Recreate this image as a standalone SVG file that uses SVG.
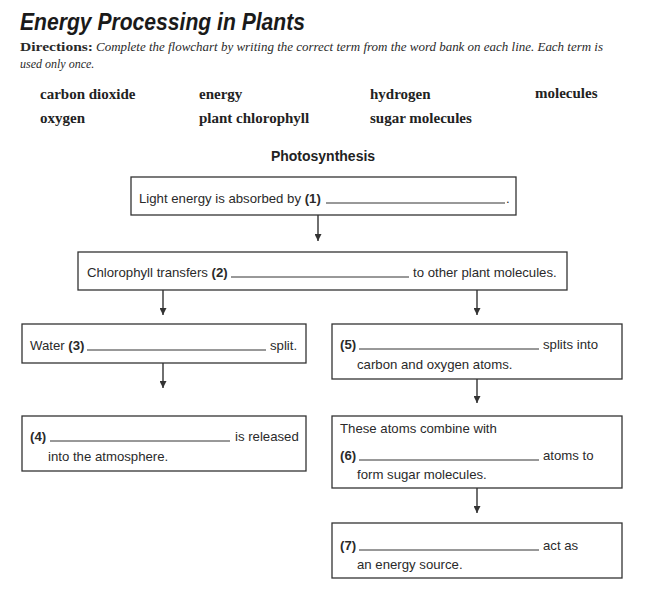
<svg xmlns="http://www.w3.org/2000/svg" width="666" height="598" viewBox="0 0 666 598">
<defs>
<style>
.title{font-family:"Liberation Sans",Arial,sans-serif;font-weight:bold;font-style:italic;font-size:24px;fill:#1a1a1a}
.dir{font-family:"Liberation Serif","Times New Roman",serif;font-size:12px;fill:#2a2a2a}
.bank{font-family:"Liberation Serif","Times New Roman",serif;font-weight:bold;font-size:15px;fill:#222}
.head{font-family:"Liberation Sans",Arial,sans-serif;font-weight:bold;font-size:14px;fill:#222}
.t{font-family:"Liberation Sans",Arial,sans-serif;font-size:13.2px;fill:#2a2a2a}
.b{font-weight:bold}
.box{fill:#fff;stroke:#333;stroke-width:1.3}
.blank{stroke:#333;stroke-width:1}
.conn{stroke:#333;stroke-width:1.4;fill:none}
</style>
<marker id="arr" viewBox="0 0 10 10" refX="10" refY="5" markerWidth="7" markerHeight="7" markerUnits="userSpaceOnUse" orient="auto">
<path d="M0,0 L10,5 L0,10 Z" fill="#333"/>
</marker>
</defs>
<rect width="666" height="598" fill="#fff"/>

<g id="header">
<text class="title" x="20" y="30" textLength="285" lengthAdjust="spacingAndGlyphs">Energy Processing in Plants</text>
<text class="dir b" x="20" y="51" font-size="13" textLength="73" lengthAdjust="spacingAndGlyphs">Directions:</text>
<text class="dir" x="96" y="51" font-style="italic" textLength="507" lengthAdjust="spacingAndGlyphs">Complete the flowchart by writing the correct term from the word bank on each line. Each term is</text>
<text class="dir" x="20" y="68" font-style="italic">used only once.</text>
</g>

<g id="wordbank">
<text class="bank" x="40" y="99">carbon dioxide</text>
<text class="bank" x="199" y="99">energy</text>
<text class="bank" x="370" y="99">hydrogen</text>
<text class="bank" x="535" y="98">molecules</text>
<text class="bank" x="40" y="123">oxygen</text>
<text class="bank" x="199" y="123">plant chlorophyll</text>
<text class="bank" x="370" y="123">sugar molecules</text>
</g>

<text class="head" x="323" y="161" text-anchor="middle">Photosynthesis</text>

<g id="connectors">
<line class="conn" x1="318" y1="215" x2="318" y2="241" marker-end="url(#arr)"/>
<line class="conn" x1="163" y1="290" x2="163" y2="315" marker-end="url(#arr)"/>
<line class="conn" x1="477" y1="290" x2="477" y2="315" marker-end="url(#arr)"/>
<line class="conn" x1="163" y1="363" x2="163" y2="388" marker-end="url(#arr)"/>
<line class="conn" x1="477" y1="379" x2="477" y2="403" marker-end="url(#arr)"/>
<line class="conn" x1="477" y1="488" x2="477" y2="513" marker-end="url(#arr)"/>
</g>

<g id="node1">
<rect class="box" x="131" y="177" width="385" height="38"/>
<text class="t" x="139" y="203">Light energy is absorbed by <tspan class="b">(1)</tspan></text>
<line class="blank" x1="326" y1="203" x2="505" y2="203"/>
<text class="t" x="506" y="203">.</text>
</g>

<g id="node2">
<rect class="box" x="78" y="252" width="489" height="38"/>
<text class="t" x="87" y="277">Chlorophyll transfers <tspan class="b">(2)</tspan></text>
<line class="blank" x1="231" y1="277" x2="409" y2="277"/>
<text class="t" x="413" y="277">to other plant molecules.</text>
</g>

<g id="node3">
<rect class="box" x="22" y="324" width="284" height="39"/>
<text class="t" x="30" y="350">Water <tspan class="b">(3)</tspan></text>
<line class="blank" x1="87" y1="350" x2="266" y2="350"/>
<text class="t" x="270" y="350">split.</text>
</g>

<g id="node4">
<rect class="box" x="22" y="416" width="284" height="55"/>
<text class="t b" x="30" y="441">(4)</text>
<line class="blank" x1="50" y1="441" x2="230" y2="441"/>
<text class="t" x="235" y="441">is released</text>
<text class="t" x="48" y="461">into the atmosphere.</text>
</g>

<g id="node5">
<rect class="box" x="332" y="324" width="290" height="55"/>
<text class="t b" x="340" y="349">(5)</text>
<line class="blank" x1="359" y1="349" x2="539" y2="349"/>
<text class="t" x="543" y="349">splits into</text>
<text class="t" x="357" y="369">carbon and oxygen atoms.</text>
</g>

<g id="node6">
<rect class="box" x="332" y="416" width="290" height="72"/>
<text class="t" x="340" y="433">These atoms combine with</text>
<text class="t b" x="340" y="460">(6)</text>
<line class="blank" x1="359" y1="460" x2="539" y2="460"/>
<text class="t" x="543" y="460">atoms to</text>
<text class="t" x="357" y="479">form sugar molecules.</text>
</g>

<g id="node7">
<rect class="box" x="332" y="523" width="290" height="55"/>
<text class="t b" x="340" y="550">(7)</text>
<line class="blank" x1="359" y1="550" x2="539" y2="550"/>
<text class="t" x="543" y="550">act as</text>
<text class="t" x="357" y="569">an energy source.</text>
</g>
</svg>
